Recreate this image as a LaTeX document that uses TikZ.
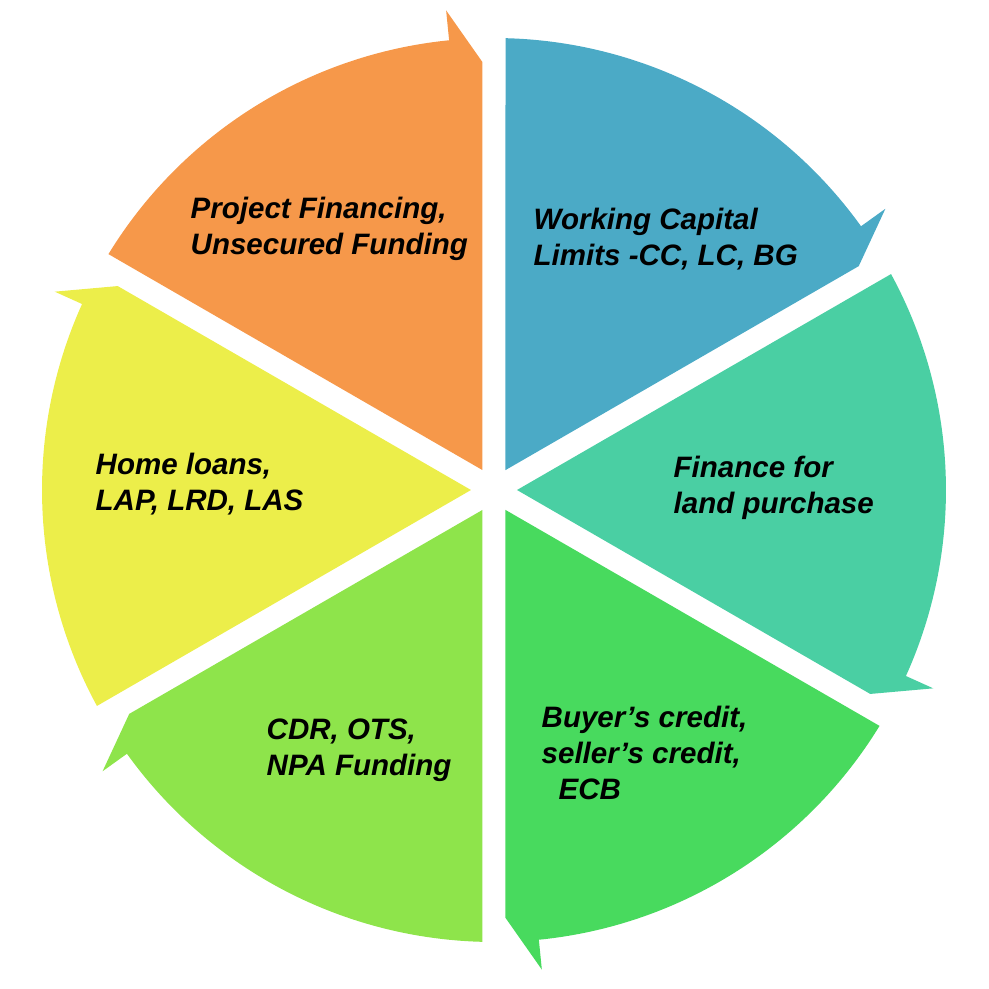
\documentclass[tikz,border=0pt]{standalone}
\usepackage{fontspec}
\setmainfont{Liberation Sans}

\definecolor{sectorOrange}{RGB}{246,152,74}
\definecolor{sectorBlue}{RGB}{75,170,198}
\definecolor{sectorTeal}{RGB}{74,207,163}
\definecolor{sectorGreen}{RGB}{72,218,94}
\definecolor{sectorLime}{RGB}{142,228,75}
\definecolor{sectorYellow}{RGB}{236,238,74}

% one wedge of the cycle: #1 = start angle (ccw side), #2 = colour
\newcommand{\cyclesector}[2]{%
  \fill[#2] ({#1-30}:0.23) -- ({#1-1.46}:4.52)
    arc[start angle={#1-1.46}, end angle={#1-54.3}, radius=4.52]
    -- ({#1-54.3}:4.82) -- ({#1-58.46}:4.28) -- cycle;
}

\begin{document}
\begin{tikzpicture}[
    itemtext/.style={
        font=\fontsize{8.4}{10.2}\selectfont\bfseries\itshape,
        align=left, anchor=west, inner sep=0pt, text=black
    }
]

\useasboundingbox (-4.94,-4.99) rectangle (4.95,4.90);

% -------------------------
% Wedges (clockwise arrows)
% -------------------------

% 1. Orange (Top Left)
\cyclesector{150}{sectorOrange}

% 2. Blue (Top Right)
\cyclesector{90}{sectorBlue}

% 3. Teal (Right)
\cyclesector{30}{sectorTeal}

% 4. Green (Bottom Right)
\cyclesector{-30}{sectorGreen}

% 5. Lime (Bottom Left)
\cyclesector{-90}{sectorLime}

% 6. Yellow (Left)
\cyclesector{-150}{sectorYellow}

% -------------------------
% Texts
% -------------------------

\node[itemtext] (project) at (-3.04, 2.61) {Project Financing,\\Unsecured Funding};

\node[itemtext] (working) at (0.39, 2.51) {Working Capital\\Limits -CC, LC, BG};

\node[itemtext] (land) at (1.79, 0.02) {Finance for\\land purchase};

\node[itemtext] (buyer) at (0.47, -2.63) {Buyer’s credit,\\seller’s credit,\\\hspace*{0.17cm}ECB};

\node[itemtext] (cdr) at (-2.28, -2.60) {CDR, OTS,\\NPA Funding};

\node[itemtext] (home) at (-3.99, 0.06) {Home loans,\\LAP, LRD, LAS};

\end{tikzpicture}
\end{document}
